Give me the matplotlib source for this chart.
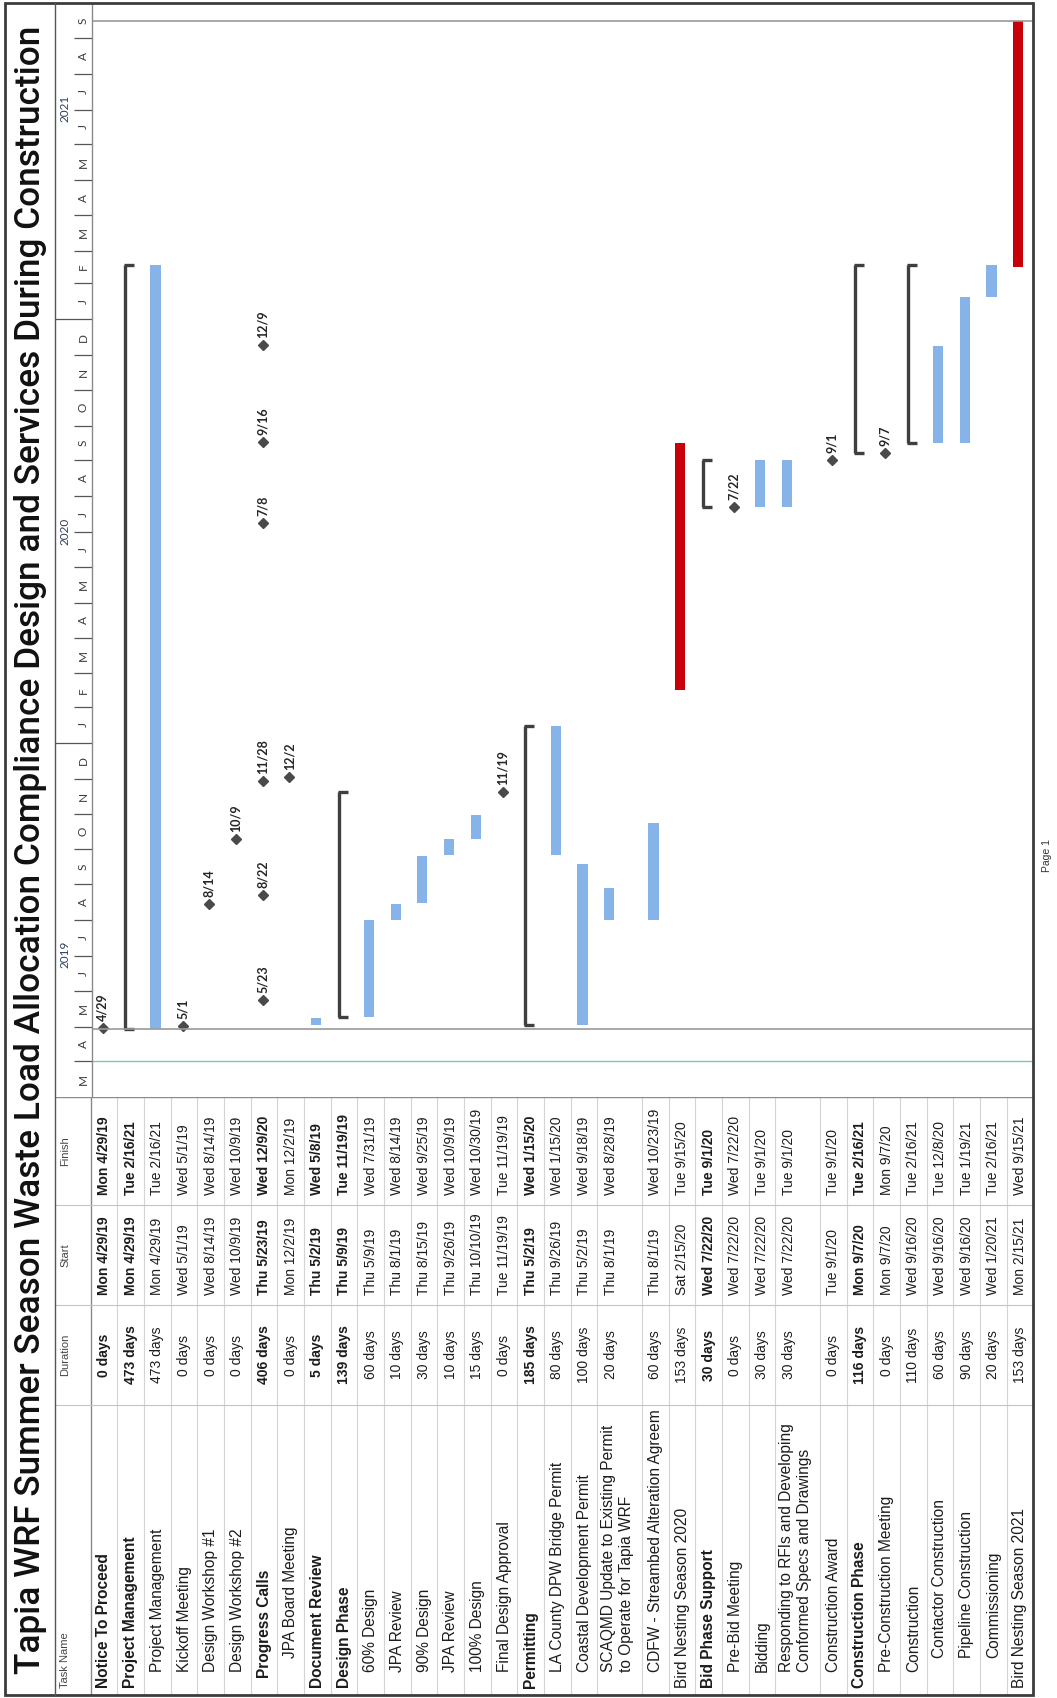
import matplotlib
matplotlib.use("Agg")
import matplotlib.pyplot as plt
import matplotlib.dates as mdates
from matplotlib.patches import Rectangle
from datetime import datetime
import numpy as np

title = ("Tapia WRF Summer Season Waste Load Allocation Compliance Design "
         "and Services During Construction")

tasks = ["Notice To Proceed", "Project Management", "Project Management", "Kickoff Meeting",
         "Design Workshop #1", "Design Workshop #2", "Progress Calls", "JPA Board Meeting",
         "Document Review", "Design Phase", "60% Design", "JPA Review", "90% Design",
         "JPA Review", "100% Design", "Final Design Approval", "Permitting",
         "LA County DPW Bridge Permit", "Coastal Development Permit",
         "SCAQMD Update to Existing Permit\nto Operate for Tapia WRF",
         "CDFW - Streambed Alteration Agreem", "Bird Nesting Season 2020",
         "Bid Phase Support", "Pre-Bid Meeting", "Bidding",
         "Responding to RFIs and Developing\nConformed Specs and Drawings",
         "Construction Award", "Construction Phase", "Pre-Construction Meeting",
         "Construction", "Contactor Construction", "Pipeline Construction",
         "Commissioning", "Bird Nesting Season 2021"]
durations = ["0 days", "473 days", "473 days", "0 days", "0 days", "0 days", "406 days",
             "0 days", "5 days", "139 days", "60 days", "10 days", "30 days", "10 days",
             "15 days", "0 days", "185 days", "80 days", "100 days", "20 days", "60 days",
             "153 days", "30 days", "0 days", "30 days", "30 days", "0 days", "116 days",
             "0 days", "110 days", "60 days", "90 days", "20 days", "153 days"]
starts = ["Mon 4/29/19", "Mon 4/29/19", "Mon 4/29/19", "Wed 5/1/19", "Wed 8/14/19",
          "Wed 10/9/19", "Thu 5/23/19", "Mon 12/2/19", "Thu 5/2/19", "Thu 5/9/19",
          "Thu 5/9/19", "Thu 8/1/19", "Thu 8/15/19", "Thu 9/26/19", "Thu 10/10/19",
          "Tue 11/19/19", "Thu 5/2/19", "Thu 9/26/19", "Thu 5/2/19", "Thu 8/1/19",
          "Thu 8/1/19", "Sat 2/15/20", "Wed 7/22/20", "Wed 7/22/20", "Wed 7/22/20",
          "Wed 7/22/20", "Tue 9/1/20", "Mon 9/7/20", "Mon 9/7/20", "Wed 9/16/20",
          "Wed 9/16/20", "Wed 9/16/20", "Wed 1/20/21", "Mon 2/15/21"]
finishes = ["Mon 4/29/19", "Tue 2/16/21", "Tue 2/16/21", "Wed 5/1/19", "Wed 8/14/19",
            "Wed 10/9/19", "Wed 12/9/20", "Mon 12/2/19", "Wed 5/8/19", "Tue 11/19/19",
            "Wed 7/31/19", "Wed 8/14/19", "Wed 9/25/19", "Wed 10/9/19", "Wed 10/30/19",
            "Tue 11/19/19", "Wed 1/15/20", "Wed 1/15/20", "Wed 9/18/19", "Wed 8/28/19",
            "Wed 10/23/19", "Tue 9/15/20", "Tue 9/1/20", "Wed 7/22/20", "Tue 9/1/20",
            "Tue 9/1/20", "Tue 9/1/20", "Tue 2/16/21", "Mon 9/7/20", "Tue 2/16/21",
            "Tue 12/8/20", "Tue 1/19/21", "Tue 2/16/21", "Wed 9/15/21"]
# ms = milestone, sum = summary bracket, roll = rolled-up milestones, season = red bar
kinds = ["ms", "sum", "task", "ms", "ms", "ms", "roll", "ms", "task", "sum", "task", "task",
         "task", "task", "task", "ms", "sum", "task", "task", "task", "task", "season",
         "sum", "ms", "task", "task", "ms", "sum", "ms", "sum", "task", "task", "task",
         "season"]
outline = [0, 0, 1, 1, 1, 1, 1, 2, 0, 0, 1, 1, 1, 1, 1, 1, 0, 1, 1, 1, 1, 0,
           0, 1, 1, 1, 1, 0, 1, 1, 2, 2, 2, 0]
bold_rows = {0, 1, 6, 8, 9, 16, 22, 27}
progress_calls = ["5/23/19", "8/22/19", "11/28/19", "7/8/20", "9/16/20", "12/9/20"]

project_start = datetime(2019, 4, 29)
project_finish = datetime(2021, 9, 15)
status_date = datetime(2019, 4, 1)
view_start, view_end = datetime(2019, 3, 1), datetime(2021, 10, 1)


def parse(s):
    return datetime.strptime(s.split()[-1], "%m/%d/%y")


W, H = 1057, 1698
fig = plt.figure(figsize=(W / 100, H / 100), dpi=100)
fig.patch.set_facecolor("white")

# page layout in pixels
frame_l, frame_r, frame_t, frame_b = 5, 1033, 3, 1695
scale_l, scale_r = 55, 92
table_top = 1097.2
col_finish, col_start, col_dur, col_task = 1097.2, 1205, 1305, 1405

row_h = np.array([44.6 if "\n" in t else 26.67 for t in tasks])
row_edges = 90.7 + np.concatenate([[0], np.cumsum(row_h)])
row_x = row_edges[:-1]

SANS = "Liberation Sans"
BLUE, RED, DARK = "#86b4e8", "#c8000a", "#3f3f3f"


def fx(x):
    return x / W


def fy(y):
    return 1 - y / H


# ---- gantt + timescale ----
ax = fig.add_axes([fx(scale_l), fy(table_top), fx(frame_r) - fx(scale_l),
                   fy(frame_t) - fy(table_top)])
ax.set_xlim(scale_l, frame_r)
ax.set_ylim(mdates.date2num(view_start), mdates.date2num(view_end))
ax.axis("off")

d0 = np.array([mdates.date2num(parse(s)) for s in starts])
d1 = np.array([mdates.date2num(parse(s)) for s in finishes])
kinds = np.array(kinds)

for kind, color in (("task", BLUE), ("season", RED)):
    idx = np.where(kinds == kind)[0]
    ax.bar(row_x[idx] + 11.6, d1[idx] + 0.71 - (d0[idx] + 0.33), bottom=d0[idx] + 0.33,
           width=10.3, color=color, linewidth=0)

for i in np.where(kinds == "sum")[0]:
    lo, hi = d0[i] + 0.33, d1[i] + 0.71
    ax.vlines(row_x[i] + 8, lo, hi, color=DARK, lw=2.4)
    ax.hlines([lo, hi], row_x[i] + 6.9, row_x[i] + 17, color=DARK, lw=2.4)

ms_x, ms_d = [], []
for i in np.where(kinds == "ms")[0]:
    ms_x.append(row_x[i] + 11.8)
    ms_d.append(parse(starts[i]))
roll_row = int(np.where(kinds == "roll")[0][0])
for s in progress_calls:
    ms_x.append(row_x[roll_row] + 11.8)
    ms_d.append(datetime.strptime(s, "%m/%d/%y"))
ms_y = mdates.date2num(ms_d) + 0.71
ax.plot(ms_x, ms_y, "D", ms=5.4, color="#4a4a4a", mec="#4a4a4a")
for x, y, d in zip(ms_x, ms_y, ms_d):
    ax.annotate(f"{d.month}/{d.day}", (x, y), xytext=(0, 5), textcoords="offset points",
                rotation=90, ha="center", va="bottom", fontsize=9, fontweight="bold",
                family="Lato", color="#262626")

# project start / finish and status date lines
ax.hlines([mdates.date2num(project_start), mdates.date2num(project_finish) + 0.71],
          scale_r, frame_r, color="#9a9a9a", lw=1.2)
ax.hlines(mdates.date2num(status_date), scale_r, frame_r, color="#7fc4b8", lw=1.0)

# timescale: years and months
months = [datetime(y, m, 1) for y in (2019, 2020, 2021) for m in range(1, 13)]
months = [m for m in months if view_start <= m < view_end]
for m in months:
    nxt = datetime(m.year + (m.month == 12), m.month % 12 + 1, 1)
    mid = mdates.date2num(m) + (nxt - m).days / 2
    ax.text(83, mid, m.strftime("%b")[0], rotation=90, ha="center", va="center",
            fontsize=8.5, family="Lato", color="#3a3a3a")
    if m.month == 1:
        ax.hlines(mdates.date2num(m), scale_l, scale_r, color="#555555", lw=0.9)
    elif m != view_start:
        ax.hlines(mdates.date2num(m), 74, scale_r, color="#555555", lw=0.9)
for yr in (2019, 2020, 2021):
    ax.text(65, mdates.date2num(datetime(yr, 7, 2)), str(yr), rotation=90, ha="center",
            va="center", fontsize=8.5, family="Lato", color="#2d3e5c")
ax.vlines(scale_r, mdates.date2num(view_start), mdates.date2num(view_end),
          color="#8a8a8a", lw=1.0)

# ---- task table ----
axt = fig.add_axes([fx(scale_l), fy(frame_b), fx(frame_r) - fx(scale_l),
                    fy(table_top) - fy(frame_b)])
axt.set_xlim(scale_l, frame_r)
axt.set_ylim(frame_b, table_top)
axt.axis("off")

axt.vlines(row_edges[1:-1], table_top, frame_b, color="#d4d4d4", lw=0.8)
axt.vlines(row_edges[0], table_top, frame_b, color="#8a8a8a", lw=1.0)
axt.hlines([col_start, col_dur, col_task], scale_l, frame_r, color="#c4c4c4", lw=0.8)
axt.hlines(table_top, scale_l, frame_r, color="#8a8a8a", lw=1.0)

hdr_kw = dict(rotation=90, fontsize=8, family=SANS, color="#444444", ha="center")
axt.text(65, 1688, "Task Name", va="bottom", **hdr_kw)
axt.text(65, (col_dur + col_task) / 2, "Duration", va="center", **hdr_kw)
axt.text(65, (col_start + col_dur) / 2, "Start", va="center", **hdr_kw)
axt.text(65, (col_finish + col_start) / 2, "Finish", va="center", **hdr_kw)

indent_px = {0: 0, 1: 16, 2: 30}
for i, name in enumerate(tasks):
    weight = "bold" if i in bold_rows else "normal"
    xc = row_x[i] + 13.3 if "\n" not in name else row_x[i] + 20
    ind = 10 if i == 6 else indent_px[outline[i]]
    kw = dict(rotation=90, fontsize=11.2, family=SANS, fontweight=weight, color="#1c1c1c",
              ha="center")
    axt.text(xc, 1688 - ind, name, va="bottom", multialignment="left",
             linespacing=1.2, **kw)
    xr = row_x[i] + 13.3
    kw["fontsize"] = 10
    axt.text(xr, (col_dur + col_task) / 2, durations[i], va="center", **kw)
    axt.text(xr, col_dur - 10, starts[i], va="bottom", **kw)
    axt.text(xr, col_start - 10, finishes[i], va="bottom", **kw)

# ---- page frame, title, footer ----
fig.add_artist(Rectangle((fx(frame_l), fy(frame_b)), fx(frame_r) - fx(frame_l),
                         fy(frame_t) - fy(frame_b), transform=fig.transFigure,
                         fill=False, ec="#3c3c3c", lw=2.0))
fig.add_artist(plt.Line2D([fx(scale_l)] * 2, [fy(frame_t), fy(frame_b)],
                          transform=fig.transFigure, color="#555555", lw=1.0))

t = fig.text(fx(31), fy(850), title, rotation=90, ha="center", va="center",
             fontsize=30, family="Roboto", fontweight=500, color="#111111")
renderer = fig.canvas.get_renderer()
span = t.get_window_extent(renderer).height
t.set_fontsize(30 * 1646 / span)

fig.text(fx(1047), fy(855), "Page 1", rotation=90, ha="center", va="center",
         fontsize=7.5, family=SANS, color="#333333")

fig.savefig("out.png", dpi=100)
